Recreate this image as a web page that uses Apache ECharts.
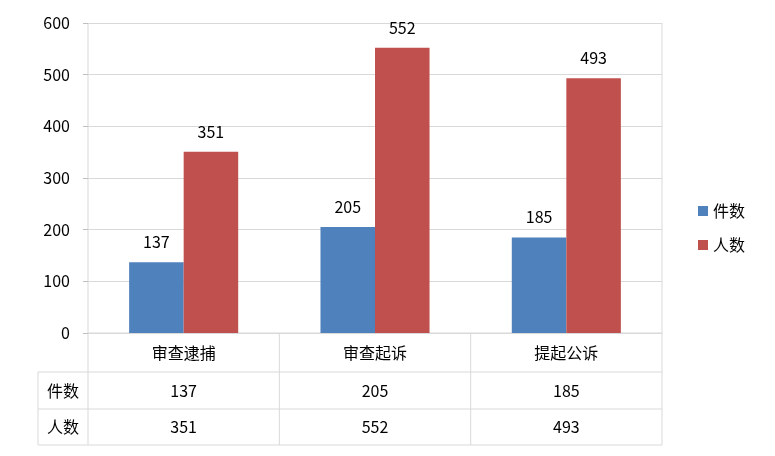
<!DOCTYPE html>
<html>
<head>
<meta charset="utf-8">
<script src="https://cdn.jsdelivr.net/npm/echarts@6/dist/echarts.min.js"></script>
<style>html,body{margin:0;padding:0;background:#fff}#chart{width:775px;height:456px}</style>
</head>
<body>
<div id="chart"></div>
<script>
var categories = ['审查逮捕', '审查起诉', '提起公诉'];
var seriesNames = ['件数', '人数'];
var caseCounts = [137, 205, 185];
var personCounts = [351, 552, 493];
var yTicks = [0, 100, 200, 300, 400, 500, 600];

var font = '"Noto Sans CJK SC", "DejaVu Sans", sans-serif';
var gridLeft = 88, gridRight = 662, gridTop = 23, gridBottom = 333;
var rowY = [333, 372, 409, 445];
var tableLeft = 38;
var lineColor = '#d9d9d9';

var chart = echarts.init(document.getElementById('chart'));

function buildTable() {
  var els = [];
  var colW = (gridRight - gridLeft) / categories.length;
  function line(x1, y1, x2, y2) {
    els.push({ type: 'line', shape: { x1: x1, y1: y1, x2: x2, y2: y2 }, style: { stroke: lineColor, lineWidth: 1 }, silent: true });
  }
  function text(x, y, s) {
    els.push({ type: 'text', x: x, y: y, style: { text: s, font: '16px ' + font, fill: '#000', align: 'center', verticalAlign: 'middle' }, silent: true });
  }
  // horizontal lines
  line(gridLeft, rowY[0], gridRight, rowY[0]);
  for (var r = 1; r < rowY.length; r++) line(tableLeft, rowY[r], gridRight, rowY[r]);
  // vertical lines
  line(tableLeft, rowY[1], tableLeft, rowY[3]);
  for (var c = 0; c <= categories.length; c++) {
    var x = gridLeft + c * colW;
    line(x, c === 0 || c === categories.length ? gridTop : rowY[0], x, rowY[3]);
  }
  var rows = [caseCounts, personCounts];
  categories.forEach(function (cat, i) {
    var cx = gridLeft + (i + 0.5) * colW;
    text(cx, (rowY[0] + rowY[1]) / 2, cat);
    rows.forEach(function (arr, j) {
      text(cx, (rowY[j + 1] + rowY[j + 2]) / 2, String(arr[i]));
    });
  });
  seriesNames.forEach(function (n, j) {
    text((tableLeft + gridLeft) / 2, (rowY[j + 1] + rowY[j + 2]) / 2, n);
  });
  return els;
}

chart.setOption({
  animation: false,
  textStyle: { fontFamily: font },
  color: ['#4f81bd', '#c0504d'],
  legend: {
    orient: 'vertical',
    left: 693, top: 198,
    itemWidth: 10, itemHeight: 10, itemGap: 18,
    icon: 'rect',
    textStyle: { fontSize: 16, color: '#000' },
    data: seriesNames
  },
  grid: { left: gridLeft, right: 775 - gridRight, top: gridTop, bottom: 456 - gridBottom },
  xAxis: {
    type: 'category',
    data: categories,
    axisLine: { show: false },
    axisTick: { show: false },
    axisLabel: { show: false },
    splitLine: { show: false }
  },
  yAxis: {
    type: 'value',
    min: 0, max: 600, interval: 100,
    axisLine: { show: false },
    axisTick: { show: true, length: 5, lineStyle: { color: '#bfbfbf' } },
    axisLabel: { fontSize: 16, color: '#000', margin: 18, formatter: function (v) { return yTicks.indexOf(v) >= 0 ? String(v) : ''; } },
    splitLine: { lineStyle: { color: lineColor } }
  },
  series: [
    { name: seriesNames[0], type: 'bar', data: caseCounts, barWidth: '28.5%', barGap: '0%',
      label: { show: true, position: 'top', distance: 12, fontSize: 16, color: '#000' } },
    { name: seriesNames[1], type: 'bar', data: personCounts, barWidth: '28.5%',
      label: { show: true, position: 'top', distance: 12, fontSize: 16, color: '#000' } }
  ],
  graphic: buildTable()
});
</script>
</body>
</html>
